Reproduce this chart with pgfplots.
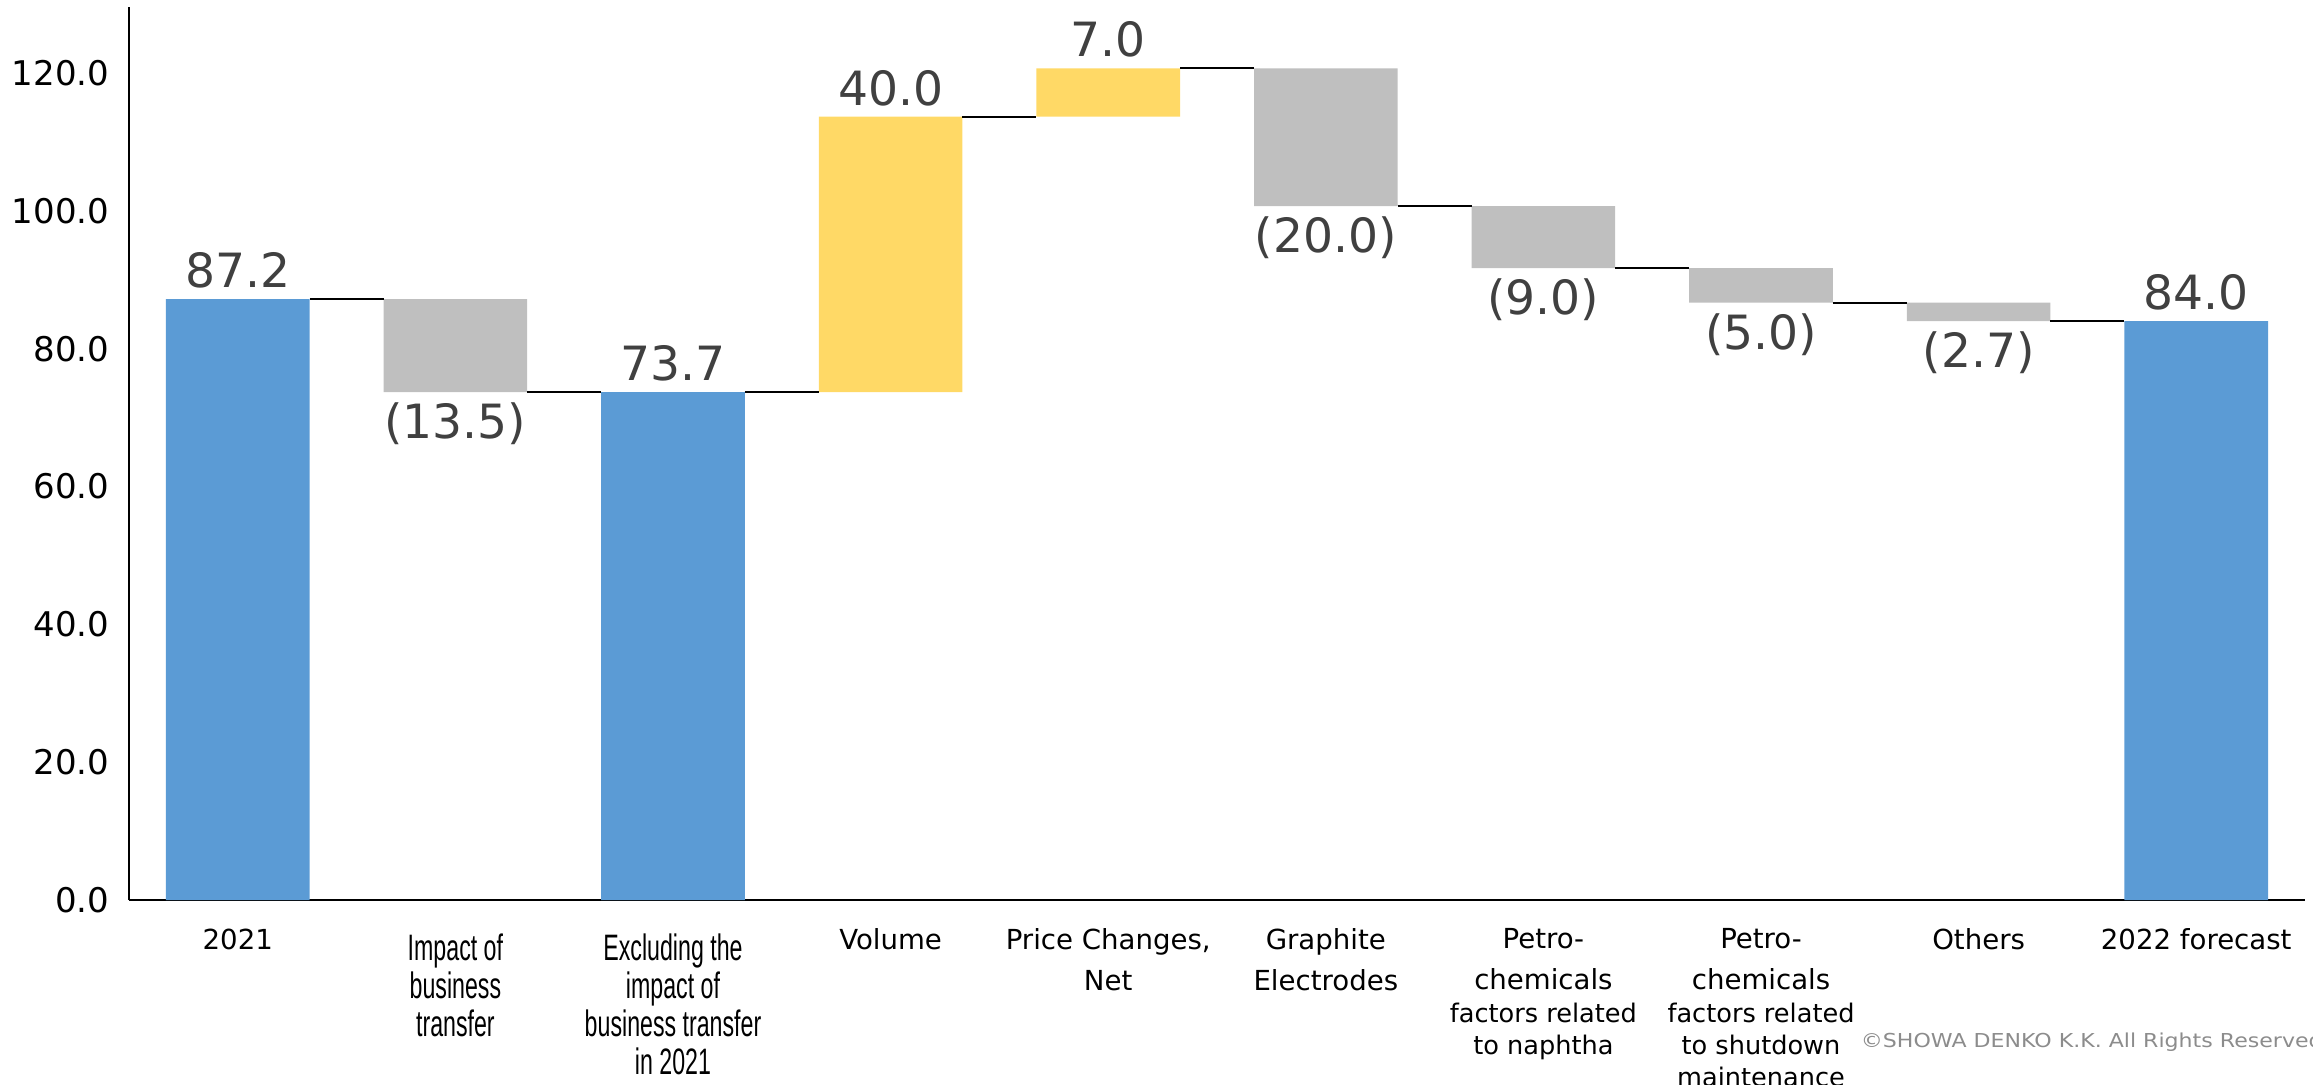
\documentclass[border=0pt]{standalone}
\usepackage{pgfplots}
\pgfplotsset{compat=1.18}
\usepackage{fontspec}
\setmainfont{DejaVu Sans}
\newfontfamily\narrowfont[FakeStretch=0.63]{Liberation Sans}
\newfontfamily\copyfont[FakeStretch=1.15]{DejaVu Sans}

\definecolor{barblue}{HTML}{5B9BD5}
\definecolor{bargrey}{HTML}{BFBFBF}
\definecolor{baryellow}{HTML}{FFD966}
\definecolor{labelgrey}{HTML}{404040}
\definecolor{copygrey}{HTML}{8C8C8C}

% narrow (Arial Narrow like) and small tick label lines
\newcommand{\nf}{\narrowfont\fontsize{9.2}{9.5}\selectfont}
\newcommand{\sm}{\fontsize{6.4}{8}\selectfont}

\pgfplotsset{
  wfaxis/.style={
    scale only axis,
    width=544pt, height=223.25pt,
    xmin=-0.5, xmax=9.5,
    ymin=0, ymax=129.6,
    at={(0,0)}, anchor=south west,
  },
}

\begin{document}
\begin{tikzpicture}
\path[use as bounding box] (-32.25pt,-46pt) rectangle (546pt,225pt);

\begin{axis}[
    wfaxis,
    ybar stacked,
    bar width=0.66,
    axis x line*=bottom,
    axis y line*=left,
    axis line style={line width=0.5pt, black},
    major tick length=0pt,
    ytick={0,20,...,120},
    yticklabel style={
        anchor=east, inner sep=0pt, xshift=-4.75pt,
        font=\fontsize{8.5}{10}\selectfont,
        /pgf/number format/.cd, fixed, fixed zerofill, precision=1,
        assume math mode=true
    },
    xtick={0,...,9},
    xticklabels={
        {2021},
        {\nf\rule{0pt}{8pt}Impact of\\[-0.7pt]\nf business\\[-0.7pt]\nf transfer},
        {\nf\rule{0pt}{8pt}Excluding the\\[-0.7pt]\nf impact of\\[-0.7pt]\nf business transfer\\[-0.7pt]\nf in 2021},
        {Volume},
        {Price Changes,\\Net},
        {Graphite\\Electrodes},
        {Petro-\\chemicals\\[-2.1pt]\sm factors related\\[-2.1pt]\sm to naphtha},
        {Petro-\\chemicals\\[-2.1pt]\sm factors related\\[-2.1pt]\sm to shutdown\\[-2.1pt]\sm maintenance},
        {Others},
        {2022 forecast}
    },
    xticklabel style={
        anchor=north, inner sep=0pt, yshift=-7pt, align=center,
        font=\fontsize{6.9}{10.2}\selectfont
    },
]
% invisible base of the floating bars
\addplot[draw=none, fill=none] coordinates {
    (0,0) (1,73.7) (2,0) (3,73.7) (4,113.7) (5,100.7) (6,91.7) (7,86.7) (8,84.0) (9,0)};
% totals
\addplot[draw=none, fill=barblue] coordinates {
    (0,87.2) (1,0) (2,73.7) (3,0) (4,0) (5,0) (6,0) (7,0) (8,0) (9,84.0)};
% decreases
\addplot[draw=none, fill=bargrey] coordinates {
    (0,0) (1,13.5) (2,0) (3,0) (4,0) (5,20.0) (6,9.0) (7,5.0) (8,2.7) (9,0)};
% increases
\addplot[draw=none, fill=baryellow] coordinates {
    (0,0) (1,0) (2,0) (3,40.0) (4,7.0) (5,0) (6,0) (7,0) (8,0) (9,0)};
\end{axis}

\begin{axis}[wfaxis, hide axis, clip=false, unbounded coords=jump]
% connector lines
\addplot[black, line width=0.5pt] coordinates {
    (0.33,87.2) (0.67,87.2) (1,nan)
    (1.33,73.7) (1.67,73.7) (2,nan)
    (2.33,73.7) (2.67,73.7) (3,nan)
    (3.33,113.7) (3.67,113.7) (4,nan)
    (4.33,120.7) (4.67,120.7) (5,nan)
    (5.33,100.7) (5.67,100.7) (6,nan)
    (6.33,91.7) (6.67,91.7) (7,nan)
    (7.33,86.7) (7.67,86.7) (8,nan)
    (8.33,84.0) (8.67,84.0)};
% labels above
\addplot[only marks, mark=none, nodes near coords, point meta=explicit symbolic,
    nodes near coords style={anchor=south, inner sep=0pt, yshift=2.5pt,
        font=\fontsize{11.8}{13}\selectfont, text=labelgrey}]
    table[meta=lab] {
    x   y     lab
    0   87.2  87.2
    2   73.7  73.7
    3   113.7 40.0
    4   120.7 7.0
    9   84.0  84.0
    };
% labels below
\addplot[only marks, mark=none, nodes near coords, point meta=explicit symbolic,
    nodes near coords style={anchor=north, inner sep=0pt, yshift=-2.5pt,
        font=\fontsize{11.8}{13}\selectfont, text=labelgrey}]
    table[meta=lab] {
    x   y     lab
    1   73.7  (13.5)
    5   100.7 (20.0)
    6   91.7  (9.0)
    7   86.7  (5.0)
    8   84.0  (2.7)
    };
\end{axis}

\node[anchor=base west, inner sep=0pt, text=copygrey,
    font=\copyfont\fontsize{4.8}{6}\selectfont] at (432.75pt,-36.75pt)
    {©SHOWA DENKO K.K. All Rights Reserved};
\end{tikzpicture}
\end{document}
